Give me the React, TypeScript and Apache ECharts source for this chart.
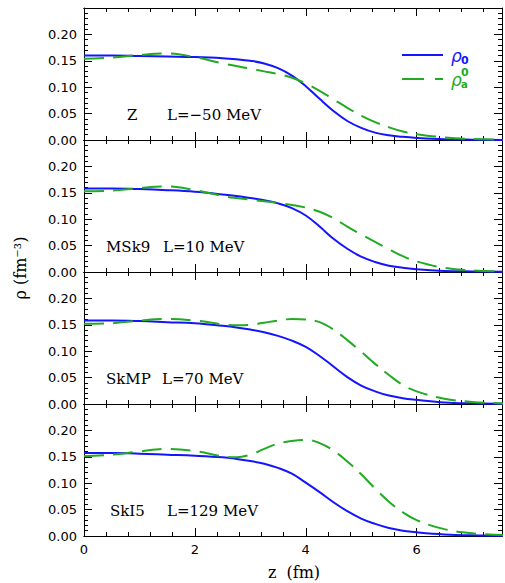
import React, { useEffect, useRef } from "react";
import * as echarts from "echarts";

// z grid (fm)
const zValues = [0, 0.5, 1, 1.5, 2, 2.5, 2.75, 3, 3.25, 3.5, 3.75, 4, 4.25, 4.5, 4.75, 5, 5.25, 5.5, 5.75, 6, 6.5, 7, 7.6];

const panelNames = ["Z", "MSk9", "SkMP", "SkI5"];
const panelL = ["L=−50 MeV", "L=10 MeV", "L=70 MeV", "L=129 MeV"];

// rho_0 (blue, solid)
const rho0Z = [0.160, 0.160, 0.159, 0.158, 0.157, 0.155, 0.153, 0.150, 0.145, 0.136, 0.122, 0.102, 0.078, 0.055, 0.036, 0.023, 0.014, 0.009, 0.006, 0.004, 0.0015, 0.0006, 0.0002];
const rho0MSk9 = [0.158, 0.158, 0.157, 0.155, 0.152, 0.147, 0.144, 0.140, 0.136, 0.130, 0.121, 0.107, 0.086, 0.063, 0.044, 0.029, 0.019, 0.012, 0.008, 0.005, 0.002, 0.001, 0.0003];
const rho0SkMP = [0.158, 0.158, 0.157, 0.155, 0.153, 0.148, 0.145, 0.141, 0.136, 0.129, 0.120, 0.108, 0.091, 0.071, 0.051, 0.035, 0.024, 0.016, 0.011, 0.008, 0.003, 0.0012, 0.0004];
const rho0SkI5 = [0.157, 0.157, 0.156, 0.154, 0.152, 0.149, 0.146, 0.142, 0.137, 0.129, 0.118, 0.101, 0.083, 0.064, 0.047, 0.033, 0.023, 0.015, 0.010, 0.007, 0.003, 0.0012, 0.0004];

// rho_a^0 (green, dashed)
const rhoaZ = [0.154, 0.156, 0.161, 0.164, 0.157, 0.145, 0.140, 0.135, 0.130, 0.125, 0.118, 0.107, 0.093, 0.077, 0.061, 0.046, 0.034, 0.024, 0.016, 0.011, 0.005, 0.002, 0.001];
const rhoaMSk9 = [0.153, 0.154, 0.159, 0.162, 0.155, 0.144, 0.140, 0.137, 0.134, 0.131, 0.127, 0.122, 0.114, 0.102, 0.086, 0.071, 0.057, 0.043, 0.030, 0.020, 0.008, 0.003, 0.001];
const rhoaSkMP = [0.152, 0.153, 0.158, 0.161, 0.158, 0.151, 0.149, 0.150, 0.154, 0.158, 0.161, 0.160, 0.155, 0.141, 0.121, 0.099, 0.076, 0.055, 0.036, 0.024, 0.010, 0.004, 0.001];
const rhoaSkI5 = [0.151, 0.154, 0.160, 0.165, 0.161, 0.151, 0.149, 0.154, 0.165, 0.175, 0.180, 0.182, 0.176, 0.162, 0.141, 0.117, 0.090, 0.065, 0.045, 0.030, 0.013, 0.005, 0.002];

const blueSets = [rho0Z, rho0MSk9, rho0SkMP, rho0SkI5];
const greenSets = [rhoaZ, rhoaMSk9, rhoaSkMP, rhoaSkI5];

const xTickLabels = [0, 2, 4, 6];

const BLUE = "#1414ff";
const GREEN = "#22aa22";
const GRID_LEFT = 84;
const GRID_WIDTH = 418;
const GRID_TOP = 8;
const PANEL_H = 132;
const X_MAX = 7.54;

export default function App() {
  const ref = useRef<HTMLDivElement>(null);
  useEffect(() => {
    if (!ref.current) return;
    const chart = echarts.init(ref.current, null, { renderer: "svg" });
    const axisLine = { show: true, onZero: false, lineStyle: { color: "#000", width: 1 } };
    const grids: any[] = [];
    const xAxes: any[] = [];
    const yAxes: any[] = [];
    const series: any[] = [];
    const graphics: any[] = [];
    panelNames.forEach((name, i) => {
      const top = GRID_TOP + PANEL_H * i;
      grids.push({ left: GRID_LEFT, width: GRID_WIDTH, top, height: PANEL_H });
      const base = {
        type: "value",
        gridIndex: i,
        min: 0,
        max: X_MAX,
        axisLine,
        splitLine: { show: false },
      };
      xAxes.push({
        ...base,
        position: "bottom",
        interval: 2,
        axisTick: { show: true, inside: true, length: 8, lineStyle: { color: "#000" } },
        axisLabel: {
          show: i === 3,
          margin: 7,
          color: "#000",
          fontFamily: "DejaVu Sans",
          fontSize: 13,
          showMaxLabel: false,
          formatter: (v: number) => (xTickLabels.indexOf(v) >= 0 ? String(v) : ""),
        },
      });
      xAxes.push({
        ...base,
        position: "bottom",
        interval: 0.4,
        axisTick: { show: true, inside: true, length: 4, lineStyle: { color: "#000" } },
        axisLabel: { show: false },
      });
      xAxes.push({
        ...base,
        position: "top",
        interval: 2,
        axisTick: { show: true, inside: true, length: 8, lineStyle: { color: "#000" } },
        axisLabel: { show: false },
      });
      xAxes.push({
        ...base,
        position: "top",
        interval: 0.4,
        axisTick: { show: true, inside: true, length: 4, lineStyle: { color: "#000" } },
        axisLabel: { show: false },
      });
      const yBase = {
        type: "value",
        gridIndex: i,
        min: 0,
        max: 0.25,
        interval: 0.05,
        axisLine,
        splitLine: { show: false },
        axisTick: { show: true, inside: true, length: 8, lineStyle: { color: "#000" } },
        minorTick: { show: true, splitNumber: 5, length: 4, lineStyle: { color: "#000" } },
        minorSplitLine: { show: false },
      };
      yAxes.push({
        ...yBase,
        position: "left",
        axisLabel: {
          show: true,
          margin: 7,
          color: "#000",
          fontFamily: "DejaVu Sans",
          fontSize: 13,
          formatter: (v: number) => (v > 0.24 ? "" : v.toFixed(2)),
        },
      });
      yAxes.push({ ...yBase, position: "right", axisLabel: { show: false } });

      series.push({
        type: "line",
        xAxisIndex: i * 4,
        yAxisIndex: i * 2,
        data: zValues.map((z, k) => [z, blueSets[i][k]]),
        smooth: 0.4,
        showSymbol: false,
        lineStyle: { color: BLUE, width: 2 },
        clip: true,
      });
      series.push({
        type: "line",
        xAxisIndex: i * 4,
        yAxisIndex: i * 2,
        data: zValues.map((z, k) => [z, greenSets[i][k]]),
        smooth: 0.4,
        showSymbol: false,
        lineStyle: { color: GREEN, width: 2, type: [20, 9] },
        clip: true,
      });

      const nameX = [127, 106, 106, 110][i];
      const lX = [167, 163, 162, 167][i];
      const ty = top + 107;
      graphics.push({
        type: "text",
        left: nameX,
        top: ty - 8,
        style: { text: name, fill: "#000", font: "15px 'DejaVu Serif'" },
      });
      graphics.push({
        type: "text",
        left: lX,
        top: ty - 8,
        style: { text: panelL[i], fill: "#000", font: "15px 'DejaVu Serif'" },
      });
    });

    // Legend
    graphics.push({
      type: "line",
      shape: { x1: 402, y1: 55, x2: 443, y2: 55 },
      style: { stroke: BLUE, lineWidth: 2 },
    });
    graphics.push({
      type: "text",
      x: 451,
      y: 56,
      style: { text: "ρ", fill: BLUE, font: "italic 17px 'DejaVu Sans'", textVerticalAlign: "middle" },
    });
    graphics.push({
      type: "text",
      x: 461,
      y: 60,
      style: { text: "0", fill: BLUE, font: "bold 11px 'DejaVu Sans'", textVerticalAlign: "middle" },
    });
    graphics.push({
      type: "line",
      shape: { x1: 402, y1: 79, x2: 443, y2: 79 },
      style: { stroke: GREEN, lineWidth: 2, lineDash: [22, 11] },
    });
    graphics.push({
      type: "text",
      x: 451,
      y: 80,
      style: { text: "ρ", fill: GREEN, font: "italic 17px 'DejaVu Sans'", textVerticalAlign: "middle" },
    });
    graphics.push({
      type: "text",
      x: 461,
      y: 84,
      style: { text: "a", fill: GREEN, font: "bold 10px 'DejaVu Sans'", textVerticalAlign: "middle" },
    });
    graphics.push({
      type: "text",
      x: 461,
      y: 72,
      style: { text: "0", fill: GREEN, font: "bold 11px 'DejaVu Sans'", textVerticalAlign: "middle" },
    });

    // Axis titles
    graphics.push({
      type: "text",
      x: 294,
      y: 572,
      style: {
        text: "z  (fm)",
        fill: "#000",
        font: "16px 'DejaVu Serif'",
        textAlign: "center",
        textVerticalAlign: "middle",
      },
    });
    graphics.push({
      type: "text",
      x: 20,
      y: 268,
      rotation: Math.PI / 2,
      style: {
        text: "ρ (fm⁻³)",
        fill: "#000",
        font: "16px 'DejaVu Serif'",
        textAlign: "center",
        textVerticalAlign: "middle",
      },
    });

    chart.setOption({
      animation: false,
      backgroundColor: "#fff",
      grid: grids,
      xAxis: xAxes,
      yAxis: yAxes,
      series,
      graphic: graphics,
    });
    return () => chart.dispose();
  }, []);
  return <div ref={ref} style={{ position: "absolute", left: 0, top: 0, width: 505, height: 583 }} />;
}
